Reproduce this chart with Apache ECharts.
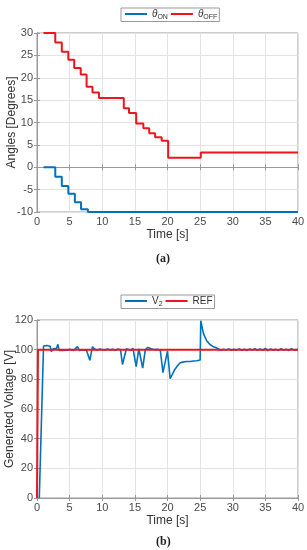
<!DOCTYPE html>
<html><head><meta charset="utf-8">
<script src="https://cdn.jsdelivr.net/npm/echarts@6/dist/echarts.min.js"></script>
<style>html,body{margin:0;padding:0;background:#fff}#c{width:307px;height:550px}</style>
</head><body><div id="c"></div>
<script>
// ---- data ----
const thetaOn = [[1,0],[2.8,-2.1],[3.8,-4.2],[4.8,-5.9],[5.8,-7.8],[6.75,-9.4],[7.8,-10],[40,-10]];
const thetaOff = [[1,30],[2.8,27.9],[3.8,25.8],[4.8,24.0],[5.7,22.2],[6.7,20.7],[7.6,18.0],[8.5,16.7],[9.5,15.5],[13.3,13.2],[14.1,12.1],[15.2,9.8],[16.3,8.7],[17.2,7.6],[18.1,6.7],[19.1,5.9],[20.1,2.1],[25.1,3.3],[40,3.3]];
const v2 = [[0.35,0],[1.0,102.5],[1.5,102.8],[2.0,102.3],[2.2,98.8],[2.5,100.6],[2.8,100],[3.0,101],[3.2,103.6],[3.4,99.4],[3.7,100.6],[4.0,99.5],[4.3,100.4],[4.6,99.6],[5.0,100.2],[5.3,101.2],[5.6,99.5],[5.9,100.2],[6.2,102],[6.5,99.4],[6.8,100.5],[7.2,100],[7.6,99.5],[7.9,100.2],[8.1,92.8],[8.5,102],[8.8,100.6],[9.2,99.5],[9.6,100.5],[10.0,100],[10.4,99.6],[10.8,100.4],[11.2,99.7],[11.6,100.3],[12.0,99.5],[12.4,100.5],[12.8,100],[13.1,90],[13.7,100.6],[14.0,101.6],[14.4,99.4],[14.7,101],[15.2,88.5],[15.6,100.6],[15.8,99.5],[16.2,87.5],[16.6,100],[17.0,101.5],[17.5,100.6],[18.0,100],[18.5,100.2],[18.9,99.6],[19.3,84.5],[20.0,99],[20.4,80.5],[20.7,83],[21.1,86.5],[21.5,89],[21.9,91],[22.3,91.6],[22.9,92],[23.5,92],[24.0,92.4],[24.5,92.5],[25.0,93],[25.1,119.5],[25.5,111],[26.0,106],[26.5,103.5],[27.0,102],[27.4,101.5],[27.8,100.5],[28.2,99.5],[28.6,100.3],[29.0,99.7],[29.4,100.4],[29.8,99.6],[30.2,100.2],[30.6,99.7],[31.0,100.4],[31.4,99.6],[31.8,100.3],[32.2,99.5],[32.6,100.5],[33.0,99.8],[33.4,100.6],[33.8,99.5],[34.2,100.4],[34.6,99.6],[35.0,100.8],[35.4,99.4],[35.8,100.5],[36.2,99.6],[36.6,100.2],[37.0,99.5],[37.4,100.6],[37.8,99.7],[38.2,100.3],[38.6,99.5],[39.0,100.6],[39.4,99.7],[40,100.2]];
const ref = [[0,0],[0.15,0],[0.15,100],[40,100]];
const xTicks = {min:0, max:40, interval:5};
const yTopTicks = {min:-10, max:30, interval:5};
const yBotTicks = {min:0, max:120, interval:20};

const blue = '#0072BD', red = '#F0141E';
const gridLineC = '#e3e3e3', boxC = '#9a9a9a', txtC = '#4a4a4a';
const FONT = 'Liberation Sans';

function xAxis(gi, name, show){
  return {type:'value', gridIndex:gi, min:xTicks.min, max:xTicks.max, interval:xTicks.interval,
    position: show ? 'bottom' : 'top',
    name: show ? name : '', nameLocation:'middle', nameGap:17, nameMoveOverlap:false,
    nameTextStyle:{color:'#333', fontSize:12, fontFamily:FONT},
    axisLine:{show:true, lineStyle:{color:boxC}},
    axisTick:{show:true, inside:true, length:3, lineStyle:{color:boxC}},
    axisLabel:{show:show, color:txtC, fontSize:11, fontFamily:FONT, margin:4},
    splitLine:{show:show, lineStyle:{color:gridLineC}}};
}
function yAxis(gi, t, name, gap, show){
  return {type:'value', gridIndex:gi, min:t.min, max:t.max, interval:t.interval,
    position: show ? 'left' : 'right',
    name: show ? name : '', nameLocation:'middle', nameGap:gap, nameMoveOverlap:false,
    nameTextStyle:{color:'#333', fontSize:12, fontFamily:FONT},
    axisLine:{show:true, lineStyle:{color:boxC}},
    axisTick:{show:true, inside:true, length:3, lineStyle:{color:boxC}},
    axisLabel:{show:show, color:txtC, fontSize:11, fontFamily:FONT, margin:4},
    splitLine:{show:show, lineStyle:{color:gridLineC}}};
}

const legendCommon = {orient:'horizontal', itemGap:3, icon:'rect', itemWidth:22, itemHeight:2,
  borderColor:'#999', borderWidth:1, padding:[1,2,1,4], backgroundColor:'#fff'};

const chart = echarts.init(document.getElementById('c'), null, {renderer:'canvas'});
chart.setOption({
  animation:false,
  backgroundColor:'#fff',
  title:[
    {text:'(a)', left:151, top:248, textStyle:{fontFamily:'Liberation Serif', fontSize:12, fontWeight:'bold', color:'#222'}},
    {text:'(b)', left:151, top:531, textStyle:{fontFamily:'Liberation Serif', fontSize:12, fontWeight:'bold', color:'#222'}}
  ],
  legend:[
    Object.assign({}, legendCommon, {data:['θON','θOFF'], left:121, top:8,
     formatter: n => n==='θON' ? '{t|θ}{s|ON}' : '{t|θ}{s|OFF}',
     textStyle:{fontFamily:FONT, fontSize:10, color:'#333',
       rich:{t:{fontSize:10, fontStyle:'italic', fontFamily:FONT, color:'#333'}, s:{fontSize:7, fontFamily:FONT, color:'#333', padding:[6,0,0,0]}}}}),
    Object.assign({}, legendCommon, {data:['V2','REF'], left:121, top:295,
     formatter: n => n==='V2' ? '{t|V}{s|2}' : '{t|REF}',
     textStyle:{fontFamily:FONT, fontSize:10, color:'#333',
       rich:{t:{fontSize:10, fontFamily:FONT, color:'#333'}, s:{fontSize:7, fontFamily:FONT, color:'#333', padding:[6,0,0,0]}}}})
  ],
  grid:[
    {left:37, right:9, top:33, height:179, show:true, borderColor:boxC, borderWidth:1, containLabel:false, outerBoundsMode:'none'},
    {left:37, right:9, top:320, height:178, show:true, borderColor:boxC, borderWidth:1, containLabel:false, outerBoundsMode:'none'}
  ],
  xAxis:[xAxis(0,'Time [s]',true), xAxis(0,'',false), xAxis(1,'Time [s]',true), xAxis(1,'',false)],
  yAxis:[yAxis(0,yTopTicks,'Angles [Degrees]',19,true), yAxis(0,yTopTicks,'',0,false),
         yAxis(1,yBotTicks,'Generated Voltage [V]',21,true), yAxis(1,yBotTicks,'',0,false)],
  series:[
    {name:'θON', type:'line', xAxisIndex:0, yAxisIndex:0, data:thetaOn, step:'end', showSymbol:false, symbol:'none', lineStyle:{color:blue, width:2}, itemStyle:{color:blue}},
    {name:'θOFF', type:'line', xAxisIndex:0, yAxisIndex:0, data:thetaOff, step:'end', showSymbol:false, symbol:'none', lineStyle:{color:red, width:2}, itemStyle:{color:red}},
    {name:'V2', type:'line', xAxisIndex:2, yAxisIndex:2, data:v2, showSymbol:false, symbol:'none', lineStyle:{color:blue, width:1.6}, itemStyle:{color:blue}},
    {name:'REF', type:'line', xAxisIndex:2, yAxisIndex:2, data:ref, showSymbol:false, symbol:'none', lineStyle:{color:red, width:2}, itemStyle:{color:red}}
  ]
});
</script></body></html>
